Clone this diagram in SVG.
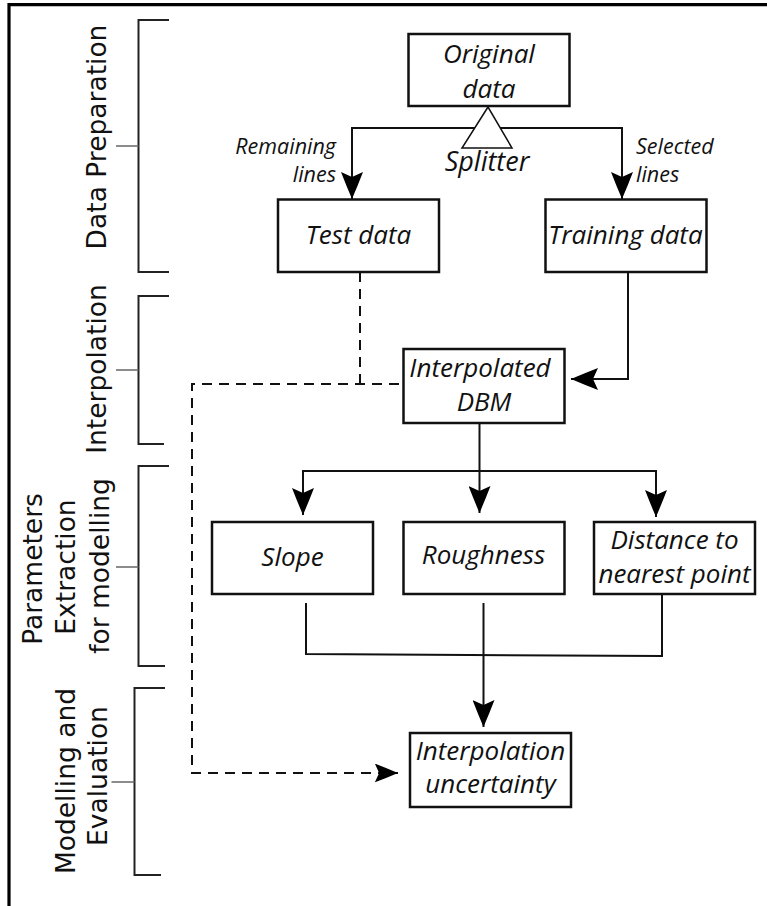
<svg xmlns="http://www.w3.org/2000/svg" width="767" height="906" viewBox="0 0 767 906">
<style>
.box{fill:#fff;stroke:#111;stroke-width:2.5}
.t{font-family:"Open Sans","Noto Sans",sans-serif;font-style:italic;font-size:26px;fill:#111;text-anchor:middle}
.lbl{font-family:"Open Sans","Noto Sans",sans-serif;font-style:italic;font-size:21.5px;fill:#111}
.side{font-family:"DejaVu Sans",Verdana,sans-serif;font-size:26.5px;fill:#111;text-anchor:middle}
.con{fill:none;stroke:#111;stroke-width:2}
.dash{fill:none;stroke:#111;stroke-width:2;stroke-dasharray:10 7}
.br{fill:none;stroke:#222;stroke-width:2}
.tick{fill:none;stroke:#666;stroke-width:1.5}
</style>
<defs>
<marker id="ah" viewBox="0 0 28 22" refX="27" refY="11" markerWidth="28" markerHeight="22" markerUnits="userSpaceOnUse" orient="auto">
<path d="M27,11 Q13,5 0,0 L5,11 L0,22 Q13,17 27,11 Z" fill="#000"/>
</marker>
<marker id="ahs" viewBox="0 0 28 22" refX="27" refY="11" markerWidth="24" markerHeight="19" markerUnits="userSpaceOnUse" orient="auto">
<path d="M27,11 Q13,5 0,0 L5,11 L0,22 Q13,17 27,11 Z" fill="#000"/>
</marker>
</defs>
<rect width="767" height="906" fill="#fff"/>
<path d="M9,906 V4.7 H767" fill="none" stroke="#000" stroke-width="3.2"/>

<g id="brackets">
<path class="br" d="M169,20 H138.5 V272 H169"/>
<path class="tick" d="M116,146 H138.5"/>
<path class="br" d="M169,296 H138.5 V444 H164"/>
<path class="tick" d="M116,370 H138.5"/>
<path class="br" d="M169,466 H138.5 V666 H165"/>
<path class="tick" d="M116,567 H138.5"/>
<path class="br" d="M165,688 H134.5 V875 H161"/>
<path class="tick" d="M111.5,782 H134.5"/>
</g>

<g id="stage-labels">
<text class="side" transform="translate(106,137) rotate(-90)">Data Preparation</text>
<text class="side" transform="translate(106,369) rotate(-90)">Interpolation</text>
<text class="side" transform="translate(41.5,569) rotate(-90)">Parameters</text>
<text class="side" transform="translate(75,567) rotate(-90)">Extraction</text>
<text class="side" transform="translate(108.5,566) rotate(-90)">for modelling</text>
<text class="side" transform="translate(75,781) rotate(-90)">Modelling and</text>
<text class="side" transform="translate(107,776) rotate(-90)">Evaluation</text>
</g>

<g id="connectors">
<path class="con" d="M488,128 H352 V199" marker-end="url(#ah)"/>
<path class="con" d="M488,128 H622 V199" marker-end="url(#ah)"/>
<path class="con" d="M628,272 V379 H571" marker-end="url(#ah)"/>
<path class="dash" d="M360,272 V384"/>
<path class="dash" d="M399,384 H192 V773 H398" marker-end="url(#ahs)"/>
<path class="con" d="M479.5,423 V513" marker-end="url(#ah)"/>
<path class="con" d="M479.5,471 H303 V515" marker-end="url(#ah)"/>
<path class="con" d="M479.5,471 H656 V517" marker-end="url(#ah)"/>
<path class="con" d="M306,603 V654 L662,656 V594"/>
<path class="con" d="M483.5,603 V727" marker-end="url(#ah)"/>
</g>

<g id="splitter">
<polygon points="488,107 462,148 512,148" fill="#fff" stroke="#111" stroke-width="1.5"/>
<text class="lbl" x="487" y="171" style="font-size:27px;text-anchor:middle">Splitter</text>
</g>

<g id="edge-labels">
<text class="lbl" x="336" y="154" text-anchor="end">Remaining</text>
<text class="lbl" x="336" y="182" text-anchor="end">lines</text>
<text class="lbl" x="636" y="154">Selected</text>
<text class="lbl" x="636" y="182">lines</text>
</g>

<g id="original-data">
<rect class="box" x="408.5" y="34" width="161" height="72"/>
<text class="t" x="489" y="63">Original</text>
<text class="t" x="489" y="98">data</text>
</g>
<g id="test-data">
<rect class="box" x="278" y="199.5" width="161" height="72.5"/>
<text class="t" x="358.5" y="244">Test data</text>
</g>
<g id="training-data">
<rect class="box" x="545.5" y="199.5" width="161" height="72.5"/>
<text class="t" x="625.5" y="244">Training data</text>
</g>
<g id="interpolated-dbm">
<rect class="box" x="403.5" y="349" width="161" height="74"/>
<text class="t" x="480" y="377">Interpolated</text>
<text class="t" x="484" y="411">DBM</text>
</g>
<g id="slope">
<rect class="box" x="212" y="522" width="161" height="72"/>
<text class="t" x="292.5" y="566">Slope</text>
</g>
<g id="roughness">
<rect class="box" x="403.5" y="522" width="161" height="72"/>
<text class="t" x="483.5" y="564">Roughness</text>
</g>
<g id="distance">
<rect class="box" x="594" y="522" width="161" height="72"/>
<text class="t" x="674.5" y="549">Distance to</text>
<text class="t" x="674.5" y="583">nearest point</text>
</g>
<g id="interpolation-uncertainty">
<rect class="box" x="410" y="733" width="161" height="74"/>
<text class="t" x="490.5" y="760">Interpolation</text>
<text class="t" x="490.5" y="793">uncertainty</text>
</g>
</svg>
